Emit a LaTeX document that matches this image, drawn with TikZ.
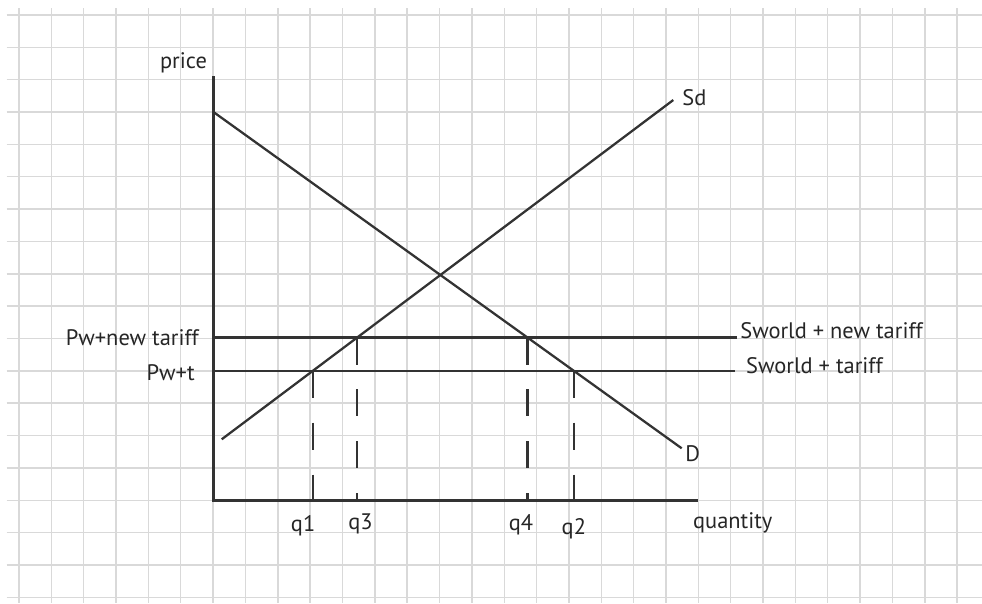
\documentclass[tikz,border=0pt]{standalone}
\usepackage{fontspec}
\setmainfont{PT Sans}
\usetikzlibrary{intersections, positioning, calc}

\begin{document}
\begin{tikzpicture}[x=0.8cm, y=0.8cm,
    gridline/.style={black!15, line width=1pt},
    axisline/.style={black!80, line width=2.1pt},
    curveline/.style={black!80, line width=1.6pt},
    dropline/.style={black!80, line width=1.6pt, dash pattern=on 19pt off 17.5pt},
    lbl/.style={font=\fontsize{15.8}{19}\selectfont, inner sep=0pt, text=black!85}]
    \useasboundingbox (-6.587,-3.176) rectangle (23.768,15.464);

    % =========================================================
    % GRAPH PAPER BACKGROUND
    % =========================================================
    \foreach \x in {-6,...,23} {
        \draw[gridline] (\x,15.21) -- (\x,-3.176);
    }
    \foreach \y in {-3,...,15} {
        \draw[gridline] (-6.38,\y) -- (23.768,\y);
    }

    % =========================================================
    % AXIS LINES
    % =========================================================
    \coordinate (origin) at (0,0);
    \draw[axisline] (0,13.1) -- (origin) -- (15,0);
    \node[lbl] (price) at (-0.915,13.52) {price};
    \node[lbl, anchor=west] (qty) at (14.83,-0.7) {quantity};

    % =========================================================
    % DOMESTIC SUPPLY AND DEMAND
    % =========================================================
    \coordinate (sdstart) at (0.266,1.884);
    \coordinate (sdend) at (14.226,12.372);
    \coordinate (dstart) at (0,12.01);
    \coordinate (dend) at (14.485,1.606);
    \draw[curveline, name path=supply] (sdstart) -- (sdend);
    \draw[curveline, name path=demand] (dstart) -- (dend);
    \node[lbl, anchor=west] (sd) at (14.5,12.44) {Sd};
    \node[lbl, anchor=west] (dd) at (14.59,1.43) {D};

    % =========================================================
    % WORLD PRICE LINES WITH TARIFFS
    % =========================================================
    \coordinate (newstart) at (0,5.03);
    \coordinate (newend) at (16.2,5.03);
    \coordinate (oldstart) at (0,4);
    \coordinate (oldend) at (16.13,4);
    \draw[curveline, name path=newtariff] (newstart) -- (newend);
    \draw[curveline, name path=oldtariff] (oldstart) -- (oldend);
    \node[lbl, anchor=base west] (swnew) at (16.29,5.0) {Sworld + new tariff};
    \node[lbl, anchor=base west] (swold) at (16.47,3.92) {Sworld + tariff};
    \node[lbl, anchor=east] (pwnew) at (-0.43,5.02) {Pw+new tariff};
    \node[lbl, anchor=east] (pwt) at (-0.56,3.93) {Pw+t};

    % =========================================================
    % QUANTITY DROP LINES
    % =========================================================
    \path[name intersections={of=supply and oldtariff, by=q1}];
    \path[name intersections={of=supply and newtariff, by=q3}];
    \path[name intersections={of=demand and newtariff, by=q4}];
    \path[name intersections={of=demand and oldtariff, by=q2}];
    \foreach \q in {q1,q3,q4,q2} {
        \coordinate (foot-\q) at (\q |- origin);
        \draw[dropline] (\q) -- (foot-\q);
    }
    \node[lbl] (lq1) at ($(foot-q1)+(-0.3,-0.78)$) {q1};
    \node[lbl] (lq3) at ($(foot-q3)+(0.1,-0.72)$) {q3};
    \node[lbl] (lq4) at ($(foot-q4)+(-0.2,-0.76)$) {q4};
    \node[lbl] (lq2) at ($(foot-q2)+(0.0,-0.88)$) {q2};
\end{tikzpicture}
\end{document}
